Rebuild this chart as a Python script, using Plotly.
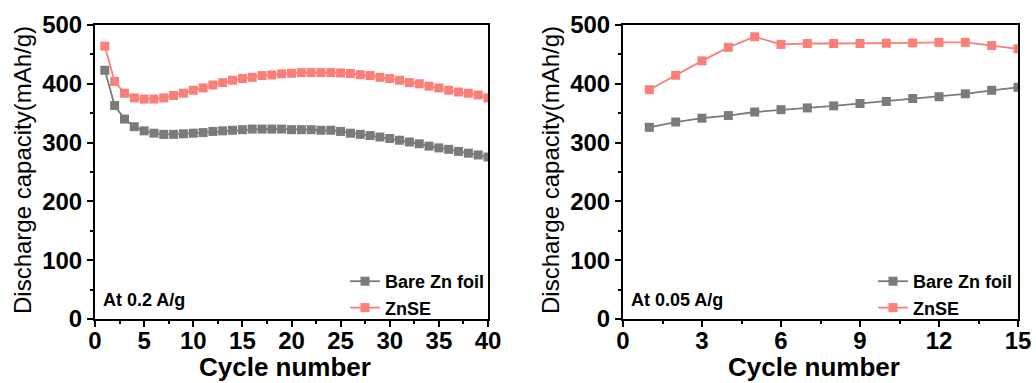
import plotly.graph_objects as go

cycles_a = list(range(1, 41))
bare_a = [423, 363, 340, 327, 320, 316, 314, 314, 315, 316, 317, 319, 320, 321, 322, 323, 323, 323, 323, 322,
          322, 322, 321, 321, 319, 316, 314, 312, 309.5, 307, 304, 301, 298, 294, 291, 288.5, 285, 282, 279, 275.5]
znse_a = [464, 404, 384, 376, 374, 374, 376, 380, 384, 389, 393, 398, 402, 406, 409, 411, 414, 415, 417, 418,
          419, 419, 419, 419, 418.5, 417.5, 415.5, 414, 411, 409, 406, 402, 400, 396, 393, 389, 386, 384, 381, 376]

cycles_b = list(range(1, 16))
bare_b = [326, 335, 341.5, 346, 352, 356, 359, 362.5, 366.5, 370, 375, 378, 383, 389, 394]
znse_b = [390, 414.5, 439, 462, 480, 467, 468.5, 468.5, 468.5, 469, 469.5, 470.5, 470.5, 465, 459.5]

GRAY = "#7b7b7b"
RED = "#f97f78"
FONT = "Liberation Sans"
W, H = 1036, 383

fig = go.Figure()

def add(x, y, name, color, xa, ya, legend):
    fig.add_trace(go.Scatter(x=x, y=y, name=name, mode="lines+markers",
                             line=dict(color=color, width=1.8),
                             marker=dict(symbol="square", size=9, color=color),
                             xaxis=xa, yaxis=ya, showlegend=True, legend=legend))

add(cycles_a, bare_a, "Bare Zn foil", GRAY, "x", "y", "legend")
add(cycles_a, znse_a, "ZnSE", RED, "x", "y", "legend")
add(cycles_b, bare_b, "Bare Zn foil", GRAY, "x2", "y2", "legend2")
add(cycles_b, znse_b, "ZnSE", RED, "x2", "y2", "legend2")

yd = [1 - 319 / H, 1 - 25 / H]
common_axis = dict(showline=True, linewidth=2, linecolor="black", mirror=True, ticks="outside",
                   ticklen=6, tickwidth=2, tickcolor="black", showgrid=False, zeroline=False,
                   automargin=False,
                   tickfont=dict(family=FONT, size=24, color="black", weight="bold"))
minor_x = lambda d: dict(dtick=d, ticks="outside", ticklen=3, tickwidth=2, tickcolor="black")

def ann(text, xp, yp, size, bold=True, angle=0):
    f = dict(family=FONT, size=size, color="black")
    if bold:
        f["weight"] = "bold"
    return dict(text=text, x=xp / W, y=1 - yp / H, xref="paper", yref="paper",
                xanchor="center", yanchor="middle", showarrow=False, textangle=angle, font=f)

def ann_left(text, xp, yp):
    return dict(text=text, x=xp / W, y=1 - yp / H, xref="paper", yref="paper",
                xanchor="left", yanchor="middle", showarrow=False,
                font=dict(family=FONT, size=18, color="black", weight="bold"))

fig.update_layout(
    width=W, height=H, margin=dict(l=0, r=0, t=0, b=0),
    plot_bgcolor="white", paper_bgcolor="white",
    xaxis=dict(domain=[95 / W, 488 / W], range=[0, 40], dtick=5, anchor="y",
               minor=minor_x(2.5), ticklabelstandoff=-7, **common_axis),
    yaxis=dict(domain=yd, range=[0, 500], dtick=100, anchor="x",
               minor=minor_x(50), **common_axis),
    xaxis2=dict(domain=[623 / W, 1018 / W], range=[0, 15], dtick=3, anchor="y2",
                minor=minor_x(1.5), ticklabelstandoff=-7, **common_axis),
    yaxis2=dict(domain=yd, range=[0, 500], dtick=100, anchor="x2",
                minor=minor_x(50), **common_axis),
    legend=dict(x=345 / W, y=1 - 263 / H, xanchor="left", yanchor="top", bgcolor="rgba(0,0,0,0)",
                font=dict(family=FONT, size=18, color="black", weight="bold"), itemwidth=30, tracegroupgap=0),
    legend2=dict(x=873 / W, y=1 - 263 / H, xanchor="left", yanchor="top", bgcolor="rgba(0,0,0,0)",
                 font=dict(family=FONT, size=18, color="black", weight="bold"), itemwidth=30, tracegroupgap=0),
    annotations=[
        ann_left("At 0.2 A/g", 101, 300),
        ann_left("At 0.05 A/g", 629, 300),
        ann("Cycle number", 285, 367, 26),
        ann("Cycle number", 814, 367, 26),
        ann("Discharge capacity(mAh/g)", 22, 170, 24, bold=False, angle=-90),
        ann("Discharge capacity(mAh/g)", 550, 170, 24, bold=False, angle=-90),
    ],
)

fig.write_html("out.html")
